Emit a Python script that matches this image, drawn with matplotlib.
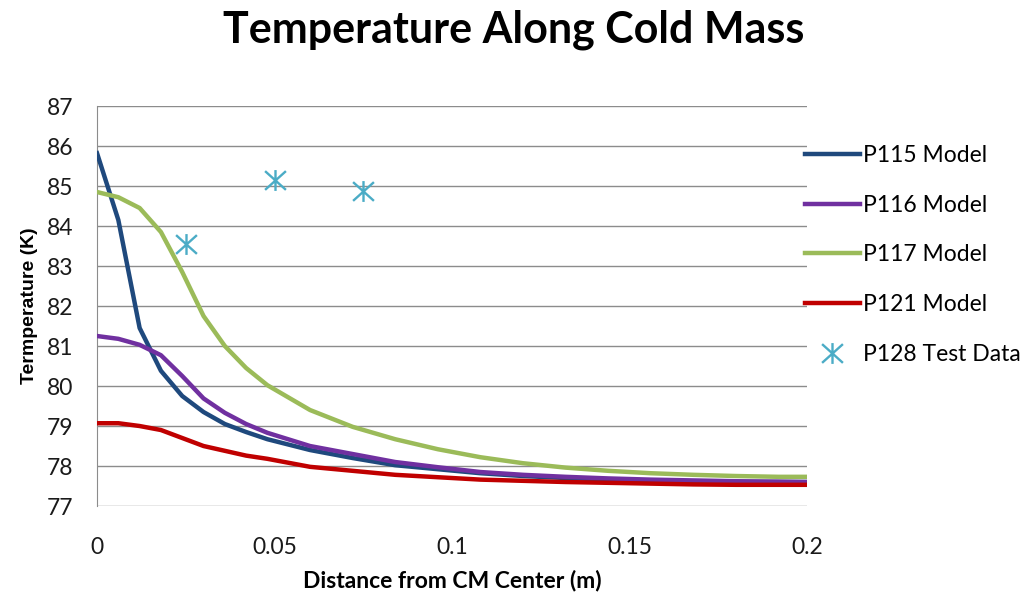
import matplotlib
matplotlib.use("Agg")
import matplotlib.pyplot as plt
from matplotlib.path import Path

plt.rcParams['font.family'] = ['Lato', 'DejaVu Sans']

# Distance from cold-mass centre (m), shared by all model runs
distance = [0.0, 0.006, 0.012, 0.018, 0.024, 0.030, 0.036, 0.042, 0.048,
            0.060, 0.072, 0.084, 0.096, 0.108, 0.120, 0.132, 0.144, 0.156,
            0.168, 0.180, 0.192, 0.200]

p115_model = [85.82, 84.15, 81.45, 80.38, 79.75, 79.35, 79.05, 78.85, 78.67,
              78.40, 78.20, 78.02, 77.92, 77.82, 77.75, 77.70, 77.66, 77.63,
              77.61, 77.60, 77.60, 77.60]
p116_model = [81.25, 81.18, 81.03, 80.77, 80.25, 79.69, 79.33, 79.05, 78.83,
              78.50, 78.30, 78.10, 77.97, 77.85, 77.78, 77.73, 77.69, 77.66,
              77.64, 77.62, 77.61, 77.60]
p117_model = [84.85, 84.72, 84.45, 83.85, 82.85, 81.75, 81.00, 80.45, 80.02,
              79.40, 78.98, 78.67, 78.42, 78.22, 78.07, 77.96, 77.88, 77.82,
              77.78, 77.75, 77.73, 77.73]
p121_model = [79.07, 79.07, 79.00, 78.90, 78.70, 78.50, 78.38, 78.26, 78.18,
              77.98, 77.88, 77.78, 77.72, 77.66, 77.63, 77.60, 77.58, 77.56,
              77.54, 77.53, 77.53, 77.53]

test_distance = [0.025, 0.050, 0.075]
p128_test = [83.55, 85.15, 84.88]

x_ticks = [0, 0.05, 0.1, 0.15, 0.2]
x_tick_labels = ["0", "0.05", "0.1", "0.15", "0.2"]
y_ticks = list(range(77, 88))

# Asterisk marker: a vertical stroke crossed by an X
star_path = Path(
    [(0, -1), (0, 1), (-1, -0.9), (1, 0.9), (-1, 0.9), (1, -0.9)],
    [Path.MOVETO, Path.LINETO, Path.MOVETO, Path.LINETO, Path.MOVETO, Path.LINETO],
)

fig = plt.figure(figsize=(10.28, 5.97), dpi=100)
ax = fig.add_axes([0.0944, 0.1524, 0.6906, 0.670])

lw = 3.2
ax.plot(distance, p115_model, color="#1F497D", lw=lw, label="P115 Model", zorder=3)
ax.plot(distance, p116_model, color="#7030A0", lw=lw, label="P116 Model", zorder=3)
ax.plot(distance, p117_model, color="#9BBB59", lw=lw, label="P117 Model", zorder=3)
ax.plot(distance, p121_model, color="#C00000", lw=lw, label="P121 Model", zorder=3)
ax.plot(test_distance, p128_test, linestyle="none", marker=star_path,
        markersize=15, markeredgewidth=1.7, color="#4BACC6",
        label="P128 Test Data", zorder=4)

ax.set_xlim(0, 0.2)
ax.set_ylim(77, 87)
ax.set_xticks(x_ticks)
ax.set_xticklabels(x_tick_labels)
ax.set_yticks(y_ticks)

ax.grid(axis="y", color="#8C8C8C", lw=1.0)
ax.set_axisbelow(True)
for side in ("top", "right", "bottom"):
    ax.spines[side].set_visible(False)
ax.spines["left"].set_color("#8C8C8C")
ax.tick_params(axis="both", length=0, labelsize=16.5, colors="#1a1a1a")
ax.tick_params(axis="y", pad=17)
ax.tick_params(axis="x", pad=22)

ax.set_xlabel("Distance from CM Center (m)", fontsize=16.5, fontweight="bold", labelpad=9)
ax.set_ylabel("Termperature (K)", fontsize=14, fontweight="bold",
              family=["Liberation Sans", "DejaVu Sans"], labelpad=6)

fig.suptitle("Temperature Along Cold Mass", fontsize=31, fontweight="bold", y=0.984)

fig.legend(loc="upper left", bbox_to_anchor=(0.783, 0.757), frameon=False,
           fontsize=16.5, handlelength=2.4, handletextpad=0.12,
           labelspacing=1.25, borderaxespad=0, borderpad=0)

fig.savefig("out.png", dpi=100)
